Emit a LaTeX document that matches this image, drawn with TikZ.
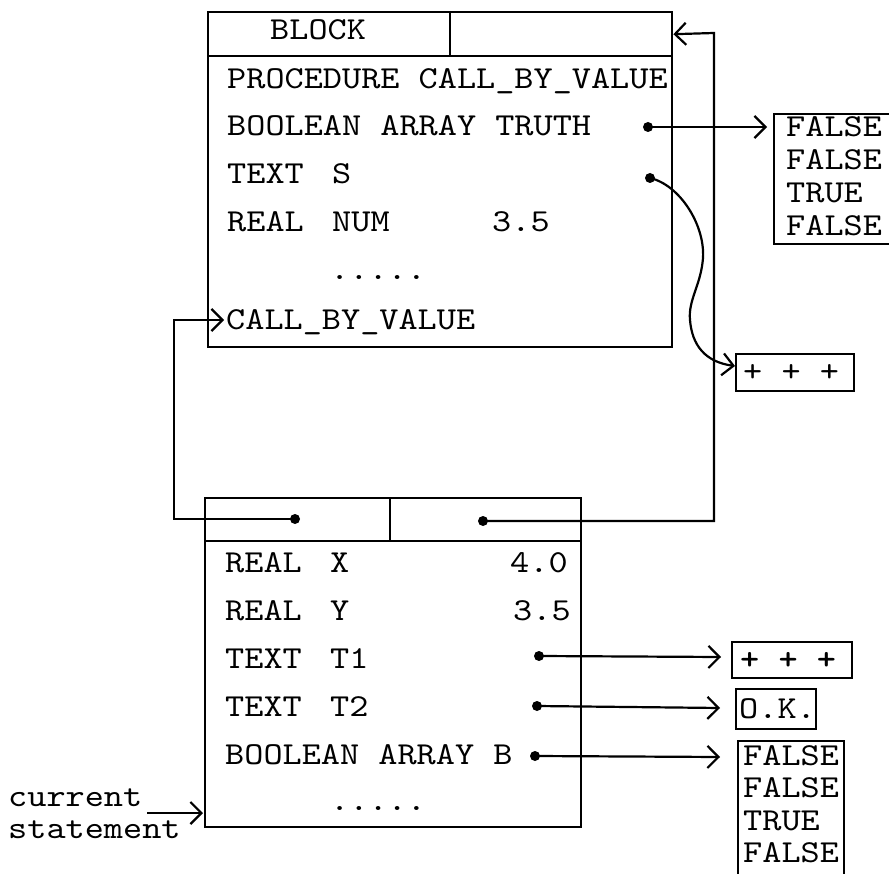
\documentclass[tikz,border=0pt]{standalone}
\usepackage{fontspec}
\newfontfamily\tw[Extension=.otf, UprightFont=*-regular, BoldFont=lmmonolt10-bold, FakeStretch=1.14]{lmmono10}
\usetikzlibrary{arrows.meta}
\begin{document}
\begin{tikzpicture}[x=1pt,y=-1pt,
  box/.style={draw, line width=2.4pt, inner sep=0pt, anchor=north west},
  txt/.style={font=\tw\fontsize{32}{33}\selectfont, inner sep=0pt, anchor=base west},
  dotnode/.style={circle, fill, inner sep=0pt, minimum size=10pt},
  arr/.style={line width=2.2pt, -{Straight Barb[length=11pt,width=22pt,line width=2.2pt]}},
  divline/.style={line width=2.6pt}]
\useasboundingbox (0,0) rectangle (889,874);
% top block
\node[box, minimum width=464pt, minimum height=44pt] (tophd) at (207,11) {};
\node[box, minimum width=464pt, minimum height=291pt] (topbd) at (207,55) {};
\draw[divline] (450,11) -- (450,55);
\node[txt] (tblock) at (270,40) {BLOCK};
\node[txt] (r1) at (227,89) {PROCEDURE CALL\_BY\_VALUE};
\node[txt] (r2) at (227,136) {BOOLEAN ARRAY TRUTH};
\node[txt] (r3a) at (227,184) {TEXT};
\node[txt] (r3b) at (332,184) {S};
\node[txt] (r4a) at (227,232) {REAL};
\node[txt] (r4b) at (332,232) {NUM};
\node[txt] (r4c) at (492,232) {3.5};
\node[txt] (r5) at (330,280) {.....};
\node[txt] (r6) at (226,330) {CALL\_BY\_VALUE};
% bottom block
\node[box, minimum width=376pt, minimum height=43pt] (bothd) at (204,497) {};
\node[box, minimum width=376pt, minimum height=286pt] (botbd) at (204,540) {};
\draw[divline] (390,497) -- (390,540);
\node[txt] (b1a) at (225,572) {REAL};
\node[txt] (b1b) at (330,572) {X};
\node[txt] (b1c) at (510,572) {4.0};
\node[txt] (b2a) at (225,620) {REAL};
\node[txt] (b2b) at (330,620) {Y};
\node[txt] (b2c) at (513,620) {3.5};
\node[txt] (b3a) at (225,668) {TEXT};
\node[txt] (b3b) at (330,668) {T1};
\node[txt] (b4a) at (225,716) {TEXT};
\node[txt] (b4b) at (330,716) {T2};
\node[txt] (b5) at (225,764) {BOOLEAN ARRAY B};
\node[txt] (b6) at (330,810) {.....};
% value boxes
\node[box, minimum width=124pt, minimum height=130pt] (arrT) at (773,113) {};
\node[txt] (aT1) at (786,137) {FALSE};
\node[txt] (aT2) at (786,170) {FALSE};
\node[txt] (aT3) at (786,203) {TRUE};
\node[txt] (aT4) at (786,236) {FALSE};
\node[box, minimum width=118pt, minimum height=37pt] (plusT) at (735,353) {};
\node[txt] (plusTt) at (743,382) {+ + +};
\node[box, minimum width=120pt, minimum height=36pt] (plusB) at (731,641) {};
\node[txt, font=\tw\bfseries\fontsize{32}{33}\selectfont] (plusBt) at (740,669) {+ + +};
\node[box, minimum width=80pt, minimum height=40pt] (okB) at (735,688) {};
\node[txt] (okt) at (739,718) {O.K.};
\node[box, minimum width=106pt, minimum height=145pt] (arrB) at (737,740) {};
\node[txt] (aB1) at (743,765) {FALSE};
\node[txt] (aB2) at (743,797) {FALSE};
\node[txt] (aB3) at (743,830) {TRUE};
\node[txt] (aB4) at (743,862) {FALSE};
% labels
\node[txt] (cur) at (8,806) {current};
\node[txt] (stm) at (8,838) {statement};
% dots
\node[dotnode] (dTruth) at (648,127) {};
\node[dotnode] (dS) at (650,178) {};
\node[dotnode] (dL) at (295,519) {};
\node[dotnode] (dR) at (483,521) {};
\node[dotnode] (dT1) at (539,656) {};
\node[dotnode] (dT2) at (537,706) {};
\node[dotnode] (dB) at (535,756) {};
% arrow ends
\coordinate (tTruth) at (767,127);
\coordinate (tS) at (735,366);
\coordinate (tT1) at (721,657);
\coordinate (tT2) at (720,708);
\coordinate (tB) at (720,757);
\coordinate (tCall) at (224,320);
\coordinate (cStart) at (147,813);
\coordinate (tCur) at (203,813);
% connectors
\draw[arr] (dR.center) -- (714,521) -- (714,33) -- (tophd.east);
\draw[arr] (dL.center) -- (174,519) -- (174,320) -- (tCall);
\draw[arr] (dTruth.center) -- (tTruth);
\draw[arr] (dS.center) .. controls (680,185) and (705,225) .. (703,258)
   .. controls (701,285) and (688,300) .. (690,320)
   .. controls (692,345) and (705,362) .. (tS);
\draw[arr] (dT1.center) -- (tT1);
\draw[arr] (dT2.center) -- (tT2);
\draw[arr] (dB.center) -- (tB);
\draw[arr] (cStart) -- (tCur);
\end{tikzpicture}
\end{document}
